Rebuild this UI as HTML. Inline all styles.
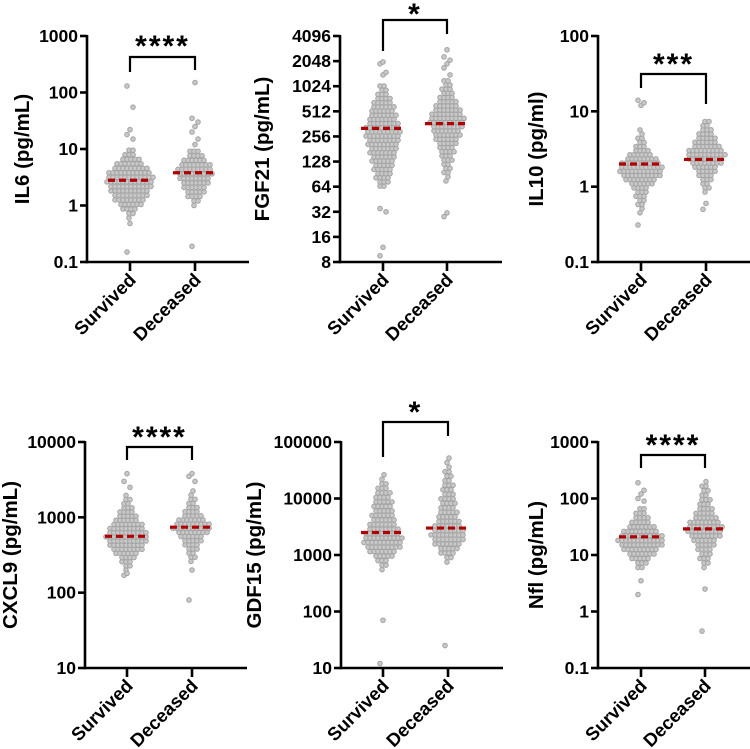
<!DOCTYPE html>
<html><head><meta charset="utf-8"><style>
html,body{margin:0;padding:0;background:#fff}
svg{display:block}
text{font-family:"Liberation Sans",Arial,sans-serif;font-weight:bold;fill:#000}
</style></head><body>
<svg id="chart" width="750" height="749" viewBox="0 0 750 749"></svg>
<script>
// ---- data (histogram rows: start value, log10 step, counts per row) ----
const categories = ["Survived","Deceased"];
const panelTitles = ["IL6 (pg/mL)","FGF21 (pg/mL)","IL10 (pg/ml)","CXCL9 (pg/mL)","GDF15 (pg/mL)","Nfl (pg/mL)"];
const significance = ["****","*","***","****","*","****"];
const tickLabelsIL6 = ["0.1","1","10","100","1000"];
const tickLabelsFGF21 = ["8","16","32","64","128","256","512","1024","2048","4096"];
const tickLabelsIL10 = ["0.1","1","10","100"];
const tickLabelsCXCL9 = ["10","100","1000","10000"];
const tickLabelsGDF15 = ["10","100","1000","10000","100000"];
const tickLabelsNfl = ["0.1","1","10","100","1000"];

const il6Surv = {start:0.6, step:0.08, counts:[1,2,4,6,8,9,10,11,12,12,11,9,7,5,3,2]};
const il6SurvOut = [0.15,0.48,15,18,22,55,130];
const il6Dec = {start:1.0, step:0.08, counts:[1,2,4,5,6,7,8,9,9,8,6,4,3]};
const il6DecOut = [0.19,12,15,20,25,30,35,150];
const fgfSurv = {start:65, step:0.05, counts:[2,3,4,4,5,5,6,6,7,7,8,8,9,9,9,8,7,7,6,6,5,4,3,2,2]};
const fgfSurvOut = [9.5,12,32,35,1400,1500,1900,2000];
const fgfDec = {start:75, step:0.05, counts:[1,1,2,2,2,3,3,4,4,5,6,7,7,8,9,9,8,7,6,5,4,3,3,2,2]};
const fgfDecOut = [28,31,1400,1700,1900,2100,2300,2800];
const il10Surv = {start:0.45, step:0.055, counts:[1,1,2,2,3,3,4,6,8,10,11,11,10,8,6,4,3,2,2,1,1]};
const il10SurvOut = [0.31,12,13,14];
const il10Dec = {start:0.85, step:0.055, counts:[1,2,2,3,4,5,6,8,9,10,9,7,6,5,4,3,2,2]};
const il10DecOut = [0.5,0.6];
const cxSurv = {start:200, step:0.055, counts:[1,2,3,4,6,8,9,10,11,10,9,8,6,5,4,3,2,2,1]};
const cxSurvOut = [170,180,2500,3000,3800];
const cxDec = {start:260, step:0.055, counts:[1,2,2,3,4,5,6,8,10,9,7,5,4,3,2,2,1,1]};
const cxDecOut = [80,200,3000,3500,3800];
const gdfSurv = {start:550, step:0.08, counts:[1,2,3,5,7,9,10,10,9,8,7,6,6,5,5,5,4,4,3,2,1,1]};
const gdfSurvOut = [12,70];
const gdfDec = {start:750, step:0.08, counts:[1,2,4,5,7,8,9,8,7,6,5,5,4,4,4,3,3,3,2,2,2,1,1,1]};
const gdfDecOut = [25];
const nflSurv = {start:6, step:0.08, counts:[2,3,5,7,9,11,12,11,9,7,5,4,3,2]};
const nflSurvOut = [2,3.5,90,100,120,140,190];
const nflDec = {start:6, step:0.08, counts:[1,2,3,3,4,5,6,8,9,9,8,6,5,4,3,3,2,2,2,1]};
const nflDecOut = [0.45,2.5];
const medians = [[2.8,3.8],[320,365],[2.0,2.3],[560,740],[2500,3000],[21,29]];

// ---- layout ----
const panels = [
 {ax:87, top:36, bot:262, cx:[130,195], lo:0.1, hi:1000, ticks:tickLabelsIL6, groups:[[il6Surv,il6SurvOut],[il6Dec,il6DecOut]], by:57, ends:[72,70], starY:55, tx:22},
 {ax:340, top:36, bot:262, cx:[383,447], lo:8, hi:4096, ticks:tickLabelsFGF21, groups:[[fgfSurv,fgfSurvOut],[fgfDec,fgfDecOut]], by:20, ends:[51,34], starY:23, tx:262},
 {ax:598, top:36, bot:262, cx:[641,706], lo:0.1, hi:100, ticks:tickLabelsIL10, groups:[[il10Surv,il10SurvOut],[il10Dec,il10DecOut]], by:74, ends:[88,104], starY:73, tx:536},
 {ax:85, top:442, bot:668, cx:[127,192], lo:10, hi:10000, ticks:tickLabelsCXCL9, groups:[[cxSurv,cxSurvOut],[cxDec,cxDecOut]], by:447, ends:[460,460], starY:446, tx:10},
 {ax:341, top:442, bot:668, cx:[383,448], lo:10, hi:100000, ticks:tickLabelsGDF15, groups:[[gdfSurv,gdfSurvOut],[gdfDec,gdfDecOut]], by:422, ends:[457,436], starY:421, tx:254},
 {ax:598, top:442, bot:668, cx:[641,705], lo:0.1, hi:1000, ticks:tickLabelsNfl, groups:[[nflSurv,nflSurvOut],[nflDec,nflDecOut]], by:455, ends:[468,468], starY:454, tx:536}
];
const NS="http://www.w3.org/2000/svg";
const svg=document.getElementById('chart');
function mk(tag,attrs,parent){const e=document.createElementNS(NS,tag);for(const k in attrs)e.setAttribute(k,attrs[k]);(parent||svg).appendChild(e);return e;}

panels.forEach((p,pi)=>{
  const g=mk('g',{});
  
  
  const y=v=>p.bot-(Math.log10(v)-Math.log10(p.lo))/(Math.log10(p.hi)-Math.log10(p.lo))*(p.bot-p.top);
  p.groups.forEach((grp,gi)=>{
    const cx=p.cx[gi];
    const dg=mk('g',{},g);
    
    
    const h=grp[0];
    h.counts.forEach((n,i)=>{
      const v=Math.pow(10,Math.log10(h.start)+i*h.step);
      const yy=y(v);
      const off=(i%2)?1:-1;
      for(let j=0;j<n;j++){
        const c=mk('circle',{cx:cx+(j-(n-1)/2)*4+off,cy:yy,r:2.3,fill:'#c8c8c8',stroke:'#a3a3a3','stroke-width':1},dg);
        
        
      }
    });
    grp[1].forEach((v,k)=>{
      const c=mk('circle',{cx:cx+((k%3)-1)*3,cy:y(v),r:2.3,fill:'#c8c8c8',stroke:'#a3a3a3','stroke-width':1},dg);
      
      
    });
    const m=mk('line',{x1:cx-22,x2:cx+22,y1:y(medians[pi][gi]),y2:y(medians[pi][gi]),stroke:'#b00000','stroke-width':3.2,'stroke-dasharray':'7 4'},g);
    
    
  });
  const ya=mk('line',{x1:p.ax,x2:p.ax,y1:p.top-1,y2:p.bot+1.25,stroke:'#000','stroke-width':2.6},g);
  
  
  const xa=mk('line',{x1:p.ax-1.25,x2:p.ax+162,y1:p.bot,y2:p.bot,stroke:'#000','stroke-width':2.6},g);
  
  
  p.ticks.forEach(t=>{
    const yy=y(parseFloat(t));
    const tl=mk('line',{x1:p.ax-7,x2:p.ax,y1:yy,y2:yy,stroke:'#000','stroke-width':2.6},g);
    
    
    const tx=mk('text',{x:p.ax-9,y:yy+6,'text-anchor':'end','font-size':17.5},g);
    tx.textContent=t;
    
    
  });
  p.cx.forEach((cx,gi)=>{
    const tl=mk('line',{x1:cx,x2:cx,y1:p.bot,y2:p.bot+9,stroke:'#000','stroke-width':2.6},g);
    
    
    const tx=mk('text',{x:cx+7,y:p.bot+19,'text-anchor':'end','font-size':18.5,transform:`rotate(-45 ${cx+7} ${p.bot+19})`},g);
    tx.textContent=categories[gi];
    
    
  });
  const mid=(p.top+p.bot)/2;
  const tt=mk('text',{x:p.tx+7,y:mid,'text-anchor':'middle','font-size':20.5,transform:`rotate(-90 ${p.tx+7} ${mid})`},g);
  tt.textContent=panelTitles[pi];
  
  
  const br=mk('path',{d:`M${p.cx[0]} ${p.ends[0]} V${p.by} H${p.cx[1]} V${p.ends[1]}`,fill:'none',stroke:'#000','stroke-width':2.2},g);
  
  
  const st=mk('text',{x:(p.cx[0]+p.cx[1])/2,y:p.starY+1,'text-anchor':'middle','font-size':30,'letter-spacing':2},g);
  st.textContent=significance[pi];
  
  
});
</script>
</body></html>
